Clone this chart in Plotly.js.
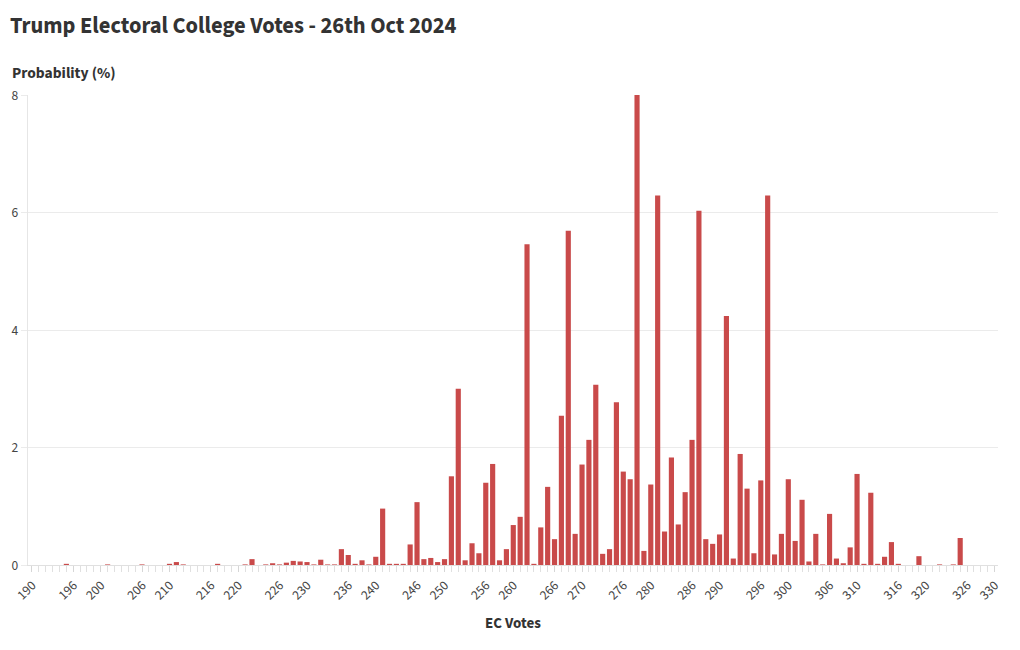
<!DOCTYPE html>
<html>
<head>
<meta charset="utf-8">
<script src="https://cdn.plot.ly/plotly-3.0.1.min.js"></script>
<style>
  html, body { margin: 0; padding: 0; background: #ffffff; }
  #chart { width: 1020px; height: 650px; }
</style>
</head>
<body>
<div id="chart"></div>
<script>
// Electoral college votes for Trump (x categories)
const ecVotes = [
  190,191,192,193,194,195,196,197,198,199,
  200,201,202,203,204,205,206,207,208,209,
  210,211,212,213,214,215,216,217,218,219,
  220,221,222,223,224,225,226,227,228,229,
  230,231,232,233,234,235,236,237,238,239,
  240,241,242,243,244,245,246,247,248,249,
  250,251,252,253,254,255,256,257,258,259,
  260,261,262,263,264,265,266,267,268,269,
  270,271,272,273,274,275,276,277,278,279,
  280,281,282,283,284,285,286,287,288,289,
  290,291,292,293,294,295,296,297,298,299,
  300,301,302,303,304,305,306,307,308,309,
  310,311,312,313,314,315,316,317,318,319,
  320,321,322,323,324,325,326,327,328,329,
  330
];

// Probability (%) of each outcome
const probability = [
  0,0,0,0,0,0.02,0,0,0,0,
  0,0.01,0,0,0,0,0.01,0,0,0,
  0.02,0.05,0.01,0,0,0,0,0.02,0,0,
  0,0.01,0.1,0,0.01,0.03,0.01,0.04,0.07,0.06,
  0.05,0.01,0.09,0.01,0.01,0.27,0.17,0.02,0.08,0.01,
  0.14,0.96,0.02,0.02,0.02,0.35,1.07,0.1,0.12,0.05,
  0.1,1.51,3.0,0.08,0.37,0.2,1.4,1.72,0.08,0.27,
  0.68,0.82,5.46,0.02,0.64,1.33,0.44,2.54,5.69,0.53,
  1.71,2.13,3.07,0.19,0.27,2.77,1.59,1.46,8.0,0.24,
  1.37,6.29,0.57,1.83,0.69,1.24,2.13,6.03,0.44,0.36,
  0.52,4.24,0.11,1.89,1.3,0.2,1.44,6.29,0.18,0.53,
  1.46,0.41,1.11,0.06,0.53,0.01,0.87,0.11,0.03,0.3,
  1.55,0.02,1.23,0.02,0.14,0.39,0.02,0,0,0.15,
  0,0,0.01,0,0.01,0.46,0,0,0,0,
  0
];

// x-axis tick labels as shown
const xTickVals = [190,196,200,206,210,216,220,226,230,236,240,246,250,256,260,266,270,276,280,286,290,296,300,306,310,316,320,326,330];
const yTickVals = [0,2,4,6,8];

const chartTitle = "Trump Electoral College Votes - 26th Oct 2024";
const yLabel = "Probability (%)";
const xLabel = "EC Votes";

const FONT = "'Source Sans Pro', 'Source Sans 3', Lato, 'Noto Sans', sans-serif";

const trace = {
  type: 'bar',
  x: ecVotes,
  y: probability,
  marker: { color: '#c94a4a' },
  hoverinfo: 'x+y'
};

const layout = {
  width: 1020,
  height: 650,
  paper_bgcolor: '#ffffff',
  plot_bgcolor: '#ffffff',
  font: { family: FONT, color: '#444444', size: 13 },
  margin: { l: 28, r: 22, t: 95, b: 85, pad: 0 },
  bargap: 0.25,
  showlegend: false,
  title: {
    text: '<b>' + chartTitle + '</b>',
    font: { family: FONT, size: 22.5, color: '#333333' },
    xref: 'container', yref: 'container',
    x: 10 / 1020, xanchor: 'left',
    y: 1 - 25 / 650, yanchor: 'middle'
  },
  xaxis: {
    range: [189.42, 330.5],
    tickmode: 'array',
    tickvals: xTickVals,
    ticktext: xTickVals.map(String),
    tickangle: -45,
    ticks: 'outside',
    ticklen: 6,
    tickcolor: '#d6d6d6',
    tickfont: { size: 13.5, color: '#444444' },
    minor: { tickmode: 'linear', tick0: 190, dtick: 1, ticks: 'outside', ticklen: 6, tickcolor: '#e0e0e0', showgrid: false },
    showgrid: false,
    zeroline: false,
    showline: true,
    linecolor: '#e0e0e0',
    linewidth: 1,
    automargin: false,
    fixedrange: true,
    title: { text: '<b>' + xLabel + '</b>', font: { family: FONT, size: 15, color: '#333333' }, standoff: 14 }
  },
  yaxis: {
    range: [0, 8],
    tickmode: 'array',
    tickvals: yTickVals,
    ticks: 'outside',
    ticklen: 6,
    tickcolor: '#ebebeb',
    tickfont: { size: 13.5, color: '#444444' },
    showgrid: true,
    gridcolor: '#ebebeb',
    gridwidth: 1,
    zeroline: false,
    showline: true,
    linecolor: '#e6e6e6',
    linewidth: 1,
    automargin: false,
    fixedrange: true
  },
  annotations: [
    {
      text: '<b>' + yLabel + '</b>',
      xref: 'paper', yref: 'paper',
      x: (10 - 28) / 970, xanchor: 'left',
      y: (565 - 73) / 470, yanchor: 'middle',
      showarrow: false,
      font: { family: FONT, size: 15.5, color: '#333333' }
    }
  ]
};

Plotly.newPlot('chart', [trace], layout, { displayModeBar: false, staticPlot: true });
</script>
</body>
</html>
